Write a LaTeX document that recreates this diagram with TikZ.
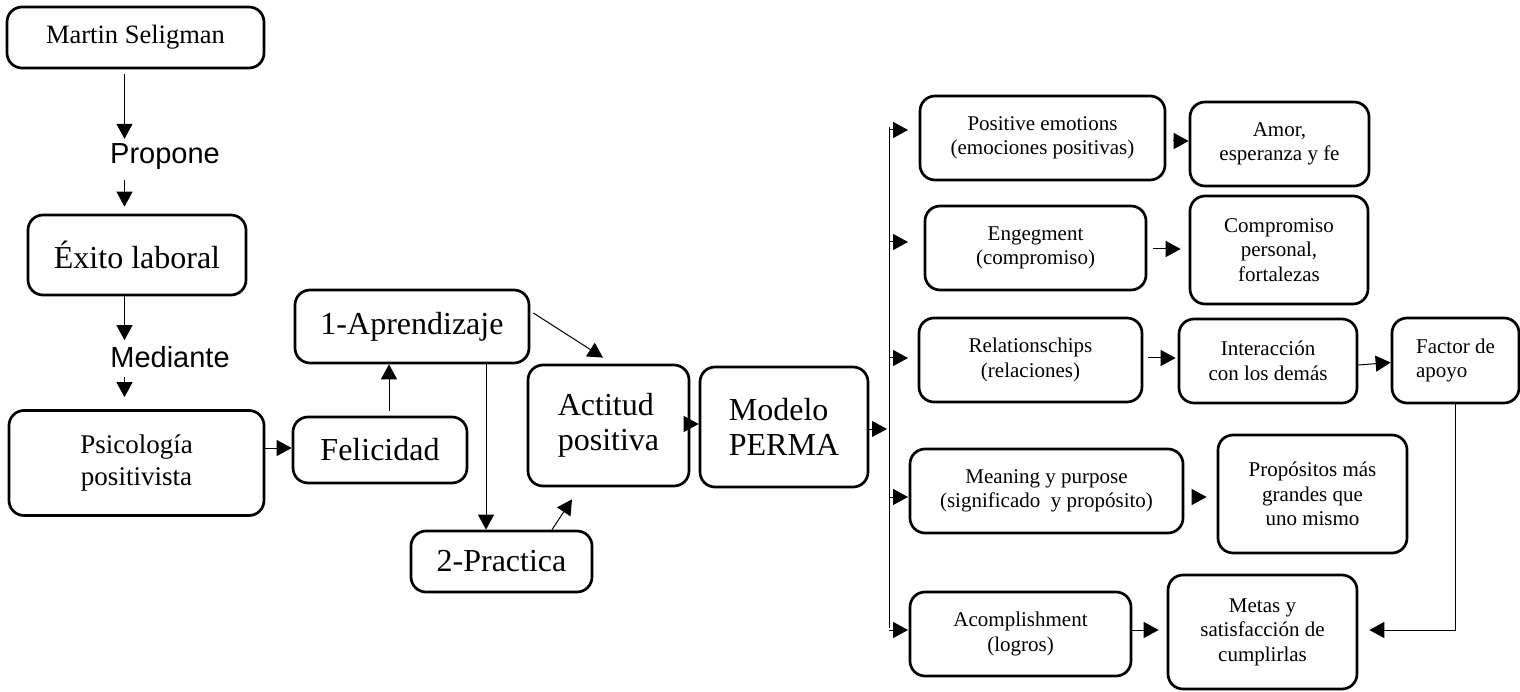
\documentclass[tikz,border=0pt]{standalone}
\usepackage{fontspec}
\setmainfont{Liberation Serif}
\newfontfamily\arialfont{Liberation Sans}
\usetikzlibrary{arrows.meta}
\begin{document}
\begin{tikzpicture}[x=1pt,y=-1pt,
  box/.style={draw,line width=2.7pt,rounded corners=15pt,align=center,inner sep=0pt},
  link/.style={-{Triangle[length=15pt,width=16pt]},line width=1pt},
  tag/.style={font=\arialfont\fontsize{29}{34}\selectfont,inner sep=3pt},
  small/.style={font=\fontsize{21}{24.5}\selectfont},
  big/.style={font=\fontsize{32}{35}\selectfont}]
  \useasboundingbox (0,0) rectangle (1520,692);
  \coordinate (lcol) at (124.5,0);
  \coordinate (bustop) at (889,127);
  \coordinate (busbot) at (889,628);
  \coordinate (tipx) at (908,0);
  \node[box,minimum width=257pt,minimum height=61pt,font=\fontsize{26.5}{30}\selectfont] (seligman) at (135.5,37.5) {Martin Seligman};
  \node[tag] (propone) at (165,157) {Propone};
  \node[box,big,minimum width=218pt,minimum height=80pt] (exito) at (137,255) {Éxito laboral};
  \node[tag] (mediante) at (170,357) {Mediante};
  \node[box,minimum width=255pt,minimum height=105pt,font=\fontsize{27}{32}\selectfont] (psico) at (136.5,463) {Psicología\\positivista};
  \node[box,big,minimum width=174pt,minimum height=66pt] (felic) at (380,450) {Felicidad};
  \node[box,big,minimum width=234pt,minimum height=73pt] (aprend) at (412,326.5) {1-Aprendizaje};
  \node[box,big,minimum width=181pt,minimum height=61pt] (practica) at (501.5,561.5) {2-Practica};
  \node[box,big,align=left,minimum width=161pt,minimum height=121pt] (actitud) at (608.5,425.5) {Actitud\\positiva};
  \node[box,big,align=left,minimum width=168pt,minimum height=120pt] (modelo) at (784,427) {Modelo\\PERMA};
  \node[box,small,minimum width=245pt,minimum height=84pt] (pe) at (1042.5,138) {Positive emotions\\(emociones positivas)};
  \node[box,small,minimum width=179pt,minimum height=84pt] (amor) at (1279.5,144) {Amor,\\esperanza y fe};
  \node[box,small,minimum width=221pt,minimum height=84pt] (eng) at (1035.5,248) {Engegment\\(compromiso)};
  \node[box,small,minimum width=178pt,minimum height=108pt] (comp) at (1279,250) {Compromiso\\personal,\\fortalezas};
  \node[box,small,minimum width=223pt,minimum height=84pt] (rel) at (1030.5,360) {Relationschips\\(relaciones)};
  \node[box,small,minimum width=178pt,minimum height=84pt] (inter) at (1268,361) {Interacción\\con los demás};
  \node[box,small,align=left,minimum width=127pt,minimum height=85pt] (factor) at (1455.5,360.5) {Factor de\\apoyo};
  \node[box,small,minimum width=273pt,minimum height=84pt] (mean) at (1046.5,491) {Meaning y purpose\\(significado\ \ y propósito)};
  \node[box,small,minimum width=189pt,minimum height=118pt] (prop) at (1312.5,494) {Propósitos más\\grandes que\\uno mismo};
  \node[box,small,minimum width=221pt,minimum height=84pt] (acomp) at (1020.5,634) {Acomplishment\\(logros)};
  \node[box,small,minimum width=189pt,minimum height=114pt] (metas) at (1262.5,632) {Metas y\\satisfacción de\\cumplirlas};
  \draw[link] ([yshift=-5pt]seligman.south -| lcol) -- ([yshift=2pt]propone.north -| lcol);
  \draw[link] ([yshift=-6.5pt]propone.south -| lcol) -- ([yshift=7pt]exito.north -| lcol);
  \draw[link] (exito.south -| lcol) -- ([yshift=3pt]mediante.north -| lcol);
  \draw[link] ([yshift=-6.5pt]mediante.south -| lcol) -- ([yshift=12pt]psico.north -| lcol);
  \draw[link] ([yshift=2pt]felic.west -| psico.east) -- ([yshift=2pt]felic.west);
  \draw[link] ([xshift=9pt,yshift=5pt]felic.north) -- ([xshift=9pt]felic.north |- aprend.south);
  \draw[link] ([xshift=3pt,yshift=13.5pt]aprend.east) -- ([xshift=-5.5pt,yshift=6pt]actitud.north);
  \draw[link] ([xshift=74pt]aprend.south) -- ([xshift=74pt]aprend.south |- practica.north);
  \draw[link] ([xshift=50.5pt]practica.north) -- ([xshift=-36.5pt,yshift=-12pt]actitud.south);
  \draw[link] ([xshift=-4pt,yshift=1.5pt]actitud.east) -- ([yshift=1.5pt]actitud.east -| modelo.west);
  \draw[link,shorten >=2pt] ([yshift=-2pt]modelo.east) -- ([yshift=-2pt]modelo.east -| bustop);
  \draw[line width=1pt] (bustop) -- (busbot);
  \foreach \n/\dy in {pe/8,eng/6,rel/2,mean/-6,acomp/4}
    \draw[link] ([yshift=\dy pt]\n.west -| bustop) -- ([yshift=\dy pt]\n.west -| tipx);
  \draw[link] ([xshift=7pt,yshift=-3pt]pe.east) -- ([yshift=-3pt]pe.east -| amor.west);
  \draw[link,shorten >=8pt] ([xshift=6pt,yshift=-1pt]eng.east) -- ([yshift=-1pt]eng.east -| comp.west);
  \draw[link,shorten >=2pt] ([xshift=5pt,yshift=2pt]rel.east) -- ([yshift=2pt]rel.east -| inter.west);
  \draw[link] ([yshift=-4pt]inter.east) -- ([yshift=-2pt]factor.west);
  \draw[link,shorten >=10pt] ([xshift=8pt,yshift=-6pt]mean.east) -- ([yshift=-6pt]mean.east -| prop.west);
  \draw[link,shorten >=8pt] ([yshift=4pt]acomp.east) -- ([yshift=4pt]acomp.east -| metas.west);
  \draw[link] (factor.south) |- ([xshift=11pt,yshift=2pt]metas.east);
\end{tikzpicture}
\end{document}
